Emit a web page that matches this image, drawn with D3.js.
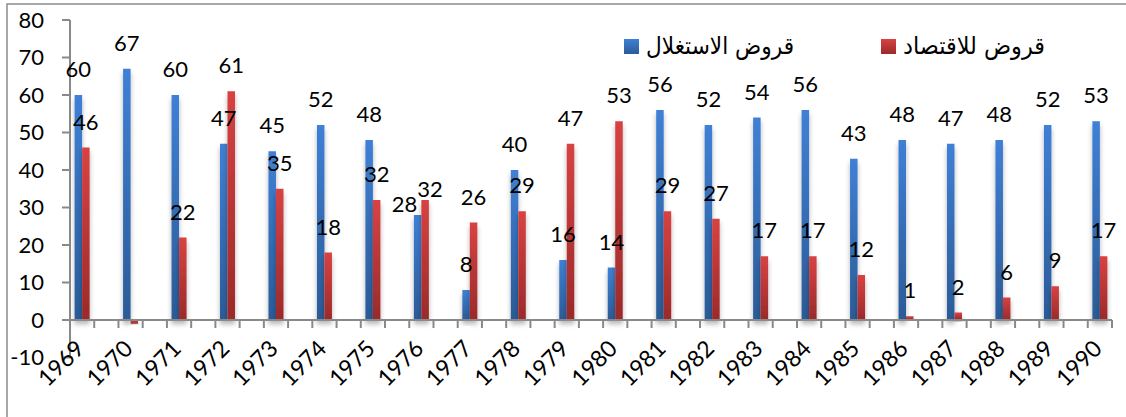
<!DOCTYPE html>
<html>
<head>
<meta charset="utf-8">
<script src="https://cdn.jsdelivr.net/npm/d3@7"></script>
<style>
  html, body { margin: 0; padding: 0; background: #fff; }
  svg { display: block; }
</style>
</head>
<body>
<svg id="chart" width="1126" height="417"></svg>
<script>
// ---- data ----
const years = [1969,1970,1971,1972,1973,1974,1975,1976,1977,1978,1979,1980,1981,1982,1983,1984,1985,1986,1987,1988,1989,1990];
const operatingLoans = [60,67,60,47,45,52,48,28,8,40,16,14,56,52,54,56,43,48,47,48,52,53];   // قروض الاستغلال
const economyLoans   = [46,-1,22,61,35,18,32,32,26,29,47,53,29,27,17,17,12,1,2,6,9,17];      // قروض للاقتصاد
const seriesNames = ["قروض الاستغلال", "قروض للاقتصاد"];
const yTicks = [-10,0,10,20,30,40,50,60,70,80];

const svg = d3.select("#chart");
const numFont = "Lato, 'Open Sans', sans-serif";
const arFont = "'DejaVu Sans', sans-serif";
const axisColor = "#898989";

// manually moved data labels in the original (year_series -> [dx, dy])
const labelNudge = { "1976_0": [-13, 15], "1976_1": [5, 15] };

// outer frame
svg.append("rect").attr("x", 7).attr("y", 4).attr("width", 1140).attr("height", 430)
  .attr("fill", "none").attr("stroke", "#8c8c8c").attr("stroke-width", 1.5);

const defs = svg.append("defs");
function grad(id, c1, c2) {
  const g = defs.append("linearGradient").attr("id", id).attr("x1", 0).attr("y1", 0).attr("x2", 0).attr("y2", 1);
  g.append("stop").attr("offset", "0%").attr("stop-color", c1);
  g.append("stop").attr("offset", "100%").attr("stop-color", c2);
}
grad("gBlue", "#3f80d6", "#2b5b97");
grad("gRed", "#d84242", "#9b2a2a");
const f = defs.append("filter").attr("id", "shadow").attr("x", "-60%").attr("y", "-10%").attr("width", "220%").attr("height", "130%");
f.append("feDropShadow").attr("dx", 0).attr("dy", 4).attr("stdDeviation", 2.5)
  .attr("flood-color", "#000").attr("flood-opacity", 0.3);

// slots: each year followed by an empty slot (except last)
const slots = [];
years.forEach((y, i) => { slots.push(String(y)); if (i < years.length - 1) slots.push("gap" + i); });

const x = d3.scaleBand().domain(slots).range([70, 1112]).paddingInner(0).paddingOuter(0);
const y = d3.scaleLinear().domain([-10, 80]).range([357.5, 20]);
const barW = 7.5;
const inner = d3.scaleBand().domain([0, 1]).range([-barW, barW]);

// y axis
const yAxis = svg.append("g");
yAxis.append("line").attr("x1", 70).attr("x2", 70).attr("y1", y(80)).attr("y2", y(-10))
  .attr("stroke", axisColor).attr("stroke-width", 2);
yAxis.selectAll("line.tk").data(yTicks).join("line").attr("class", "tk")
  .attr("x1", 62).attr("x2", 70).attr("y1", d => y(d)).attr("y2", d => y(d))
  .attr("stroke", axisColor).attr("stroke-width", 2);
yAxis.selectAll("text").data(yTicks).join("text")
  .attr("x", 44).attr("y", d => y(d)).attr("dy", "0.36em")
  .attr("text-anchor", "end").attr("font-family", numFont).attr("font-size", 22).attr("fill", "#000")
  .text(d => d);

// bars
const data = years.map((yr, i) => ({ year: String(yr), vals: [operatingLoans[i], economyLoans[i]] }));
const cx = d => x(d) + x.bandwidth() / 2;
const fills = ["url(#gBlue)", "url(#gRed)"];

const barG = svg.append("g");
data.forEach(d => {
  d.vals.forEach((v, s) => {
    barG.append("rect")
      .attr("x", cx(d.year) + inner(s))
      .attr("width", inner.bandwidth())
      .attr("y", y(Math.max(0, v)))
      .attr("height", Math.abs(y(v) - y(0)))
      .attr("fill", fills[s])
      .attr("filter", "url(#shadow)");
  });
});

// x axis line and ticks
svg.append("line").attr("x1", 70).attr("x2", 1112).attr("y1", y(0)).attr("y2", y(0))
  .attr("stroke", axisColor).attr("stroke-width", 2);
const tickXs = d3.range(1, slots.length + 1).map(k => x.range()[0] + k * x.bandwidth());
svg.selectAll("line.xt").data(tickXs).join("line").attr("class", "xt")
  .attr("x1", d => d).attr("x2", d => d).attr("y1", y(0)).attr("y2", y(0) + 8)
  .attr("stroke", axisColor).attr("stroke-width", 2);

// year labels
svg.selectAll("text.yr").data(years).join("text").attr("class", "yr")
  .attr("transform", d => `translate(${cx(String(d)) + 3.5},350) rotate(-45)`)
  .attr("text-anchor", "end").attr("font-family", numFont).attr("font-size", 23).attr("fill", "#000")
  .text(d => d);

// data labels
const lblG = svg.append("g");
data.forEach(d => {
  d.vals.forEach((v, s) => {
    if (v < 0) return;
    const nudge = labelNudge[d.year + "_" + s] || [0, 0];
    lblG.append("text")
      .attr("x", cx(d.year) + inner(s) + inner.bandwidth() / 2 + nudge[0])
      .attr("y", y(v) - 18 + nudge[1])
      .attr("text-anchor", "middle").attr("font-family", numFont).attr("font-size", 22).attr("fill", "#000")
      .text(v);
  });
});

// legend
const legendItems = [
  { name: seriesNames[0], fill: fills[0], x: 624, w: 148 },
  { name: seriesNames[1], fill: fills[1], x: 881, w: 142 }
];
const lg = svg.append("g");
legendItems.forEach(it => {
  lg.append("rect").attr("x", it.x).attr("y", 39).attr("width", 15).attr("height", 15).attr("fill", it.fill);
  lg.append("text").attr("x", it.x + 22).attr("y", 46.5).attr("dy", "0.3em")
    .attr("font-family", arFont).attr("font-size", 24).attr("fill", "#000")
    .attr("text-anchor", "start")
    .attr("textLength", it.w).attr("lengthAdjust", "spacingAndGlyphs")
    .text(it.name);
});
</script>
</body>
</html>
